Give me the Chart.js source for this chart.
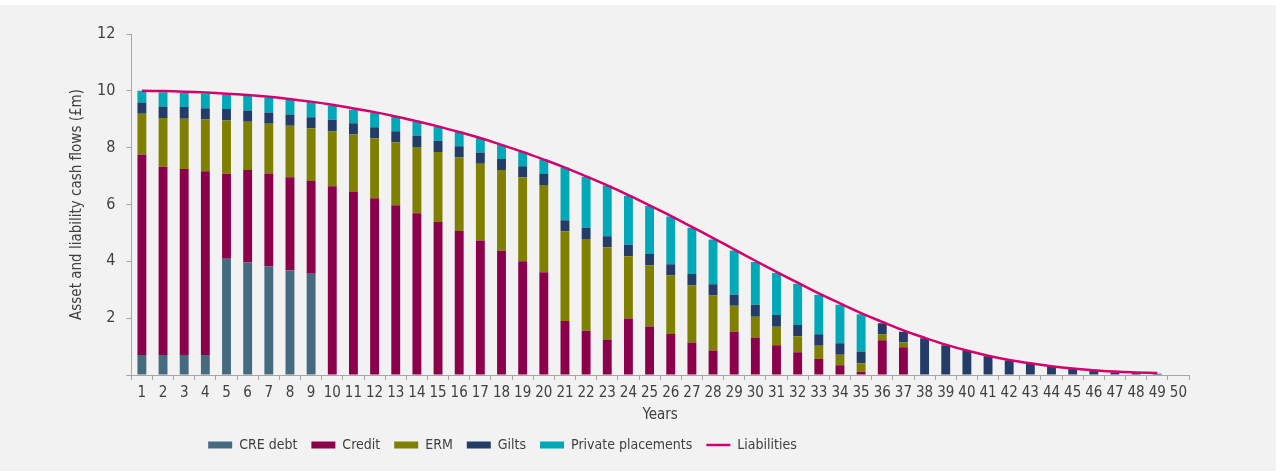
<!DOCTYPE html>
<html>
<head>
<meta charset="utf-8">
<script src="https://cdn.jsdelivr.net/npm/chart.js@4.4.1/dist/chart.umd.min.js"></script>
<style>
  html, body { margin: 0; padding: 0; background: #ffffff; }
  #wrap { position: absolute; left: 0; top: 5px; width: 1276px; height: 466px; background: #f2f2f2; }
</style>
</head>
<body>
<div id="wrap"><canvas id="myChart"></canvas></div>
<script>
const years = []
for (let i = 1; i <= 50; i++) years.push(String(i))

const creDebt = [0.7, 0.7, 0.7, 0.7, 4.09, 3.96, 3.82, 3.68, 3.56, 0,
  0, 0, 0, 0, 0, 0, 0, 0, 0, 0,
  0, 0, 0, 0, 0, 0, 0, 0, 0, 0,
  0, 0, 0, 0, 0, 0, 0, 0, 0, 0,
  0, 0, 0, 0, 0, 0, 0, 0, 0, 0]
const credit = [7.05, 6.63, 6.55, 6.47, 2.99, 3.25, 3.27, 3.28, 3.27, 6.64,
  6.44, 6.22, 5.97, 5.69, 5.38, 5.07, 4.73, 4.37, 4.0, 3.62,
  1.9, 1.56, 1.25, 1.99, 1.71, 1.44, 1.14, 0.86, 1.52, 1.32,
  1.05, 0.8, 0.56, 0.34, 0.11, 1.22, 0.98, 0, 0, 0,
  0, 0, 0, 0, 0, 0, 0, 0, 0, 0]
const erm = [1.44, 1.71, 1.77, 1.82, 1.88, 1.7, 1.75, 1.81, 1.85, 1.93,
  2.02, 2.11, 2.22, 2.33, 2.47, 2.58, 2.7, 2.84, 2.96, 3.07,
  3.16, 3.23, 3.25, 2.19, 2.15, 2.06, 2.01, 1.94, 0.92, 0.73,
  0.65, 0.56, 0.47, 0.37, 0.3, 0.21, 0.16, 0, 0, 0,
  0, 0, 0, 0, 0, 0, 0, 0, 0, 0]
const gilts = [0.4, 0.41, 0.41, 0.4, 0.4, 0.4, 0.4, 0.4, 0.39, 0.41,
  0.4, 0.39, 0.39, 0.4, 0.39, 0.4, 0.4, 0.39, 0.39, 0.38,
  0.39, 0.39, 0.38, 0.4, 0.4, 0.4, 0.4, 0.39, 0.38, 0.42,
  0.41, 0.4, 0.4, 0.41, 0.42, 0.39, 0.38, 1.29, 1.05, 0.85,
  0.66, 0.51, 0.39, 0.29, 0.21, 0.15, 0.1, 0.07, 0.04, 0]
const privatePlacements = [0.41, 0.5, 0.49, 0.51, 0.52, 0.52, 0.52, 0.52, 0.55, 0.5,
  0.47, 0.51, 0.52, 0.51, 0.5, 0.51, 0.51, 0.5, 0.5, 0.51,
  1.85, 1.8, 1.79, 1.73, 1.69, 1.68, 1.63, 1.58, 1.56, 1.51,
  1.48, 1.45, 1.39, 1.35, 1.31, 0, 0, 0, 0, 0,
  0, 0, 0, 0, 0, 0, 0, 0, 0, 0]
const liabilities = [10.0, 9.99, 9.97, 9.94, 9.9, 9.85, 9.79, 9.71, 9.62, 9.51,
  9.38, 9.25, 9.1, 8.93, 8.75, 8.55, 8.34, 8.1, 7.85, 7.58,
  7.3, 6.99, 6.67, 6.33, 5.97, 5.6, 5.21, 4.82, 4.42, 4.02,
  3.63, 3.25, 2.87, 2.52, 2.18, 1.87, 1.57, 1.31, 1.07, 0.86,
  0.68, 0.53, 0.41, 0.31, 0.23, 0.17, 0.12, 0.09, 0.07, null]

const yTicks = [0, 2, 4, 6, 8, 10, 12]

const fontFamily = "'Liberation Sans Narrow', 'DejaVu Sans Condensed', 'Liberation Sans', Arial, sans-serif"
Chart.defaults.font.family = fontFamily
Chart.defaults.color = '#404040'

const axisGrey = '#a6a6a6'

const bar = (label, data, color) => ({
  type: 'bar', label, data, backgroundColor: color, borderWidth: 0,
  pointStyle: 'rect', stack: 'assets', order: 2
})

// move the legend a little to the left, like the original
const legendShift = {
  id: 'legendShift',
  afterLayout(chart) {
    const lg = chart.legend
    lg.left -= 124
    lg.right -= 124
  }
}

new Chart(document.getElementById('myChart'), {
  data: {
    labels: years,
    datasets: [
      bar('CRE debt', creDebt, '#466b80'),
      bar('Credit', credit, '#8c004b'),
      bar('ERM', erm, '#7f7f00'),
      bar('Gilts', gilts, '#243d68'),
      bar('Private placements', privatePlacements, '#00a9b8'),
      {
        type: 'line', label: 'Liabilities', data: liabilities,
        borderColor: '#d4006e', backgroundColor: '#d4006e', borderWidth: 2.5,
        pointRadius: 0, pointStyle: 'line', tension: 0.4, order: 1, stack: 'liab'
      }
    ]
  },
  plugins: [legendShift],
  options: {
    responsive: true,
    maintainAspectRatio: false,
    animation: false,
    layout: { padding: { left: 64, right: 87, top: 29, bottom: 9 } },
    datasets: { bar: { barPercentage: 0.42, categoryPercentage: 1 } },
    plugins: {
      tooltip: { enabled: false },
      legend: {
        position: 'bottom',
        labels: {
          usePointStyle: true, pointStyleWidth: 24, boxHeight: 7,
          padding: 14, color: '#404040', font: { size: 14 },
          sort: (a, b) => a.datasetIndex - b.datasetIndex
        }
      }
    },
    scales: {
      x: {
        stacked: true,
        grid: { drawOnChartArea: false, drawTicks: true, tickLength: 5, color: axisGrey },
        border: { color: axisGrey },
        ticks: { autoSkip: false, maxRotation: 0, padding: 4, color: '#404040', font: { size: 15 } },
        title: { display: true, text: 'Years', color: '#404040', font: { size: 15 }, padding: { top: 0, bottom: 0 } }
      },
      y: {
        stacked: true,
        min: 0, max: 12,
        afterBuildTicks: (axis) => { axis.ticks = yTicks.map(v => ({ value: v })) },
        grid: { drawOnChartArea: false, drawTicks: true, tickLength: 5, color: axisGrey },
        border: { color: axisGrey },
        ticks: { padding: 11, color: '#404040', font: { size: 16 },
          callback: (v) => v === 0 ? '' : v },
        title: { display: true, text: 'Asset and liability cash flows (£m)', color: '#404040',
          font: { size: 15 }, padding: { top: 4, bottom: 0 } }
      }
    }
  }
})
</script>
</body>
</html>
